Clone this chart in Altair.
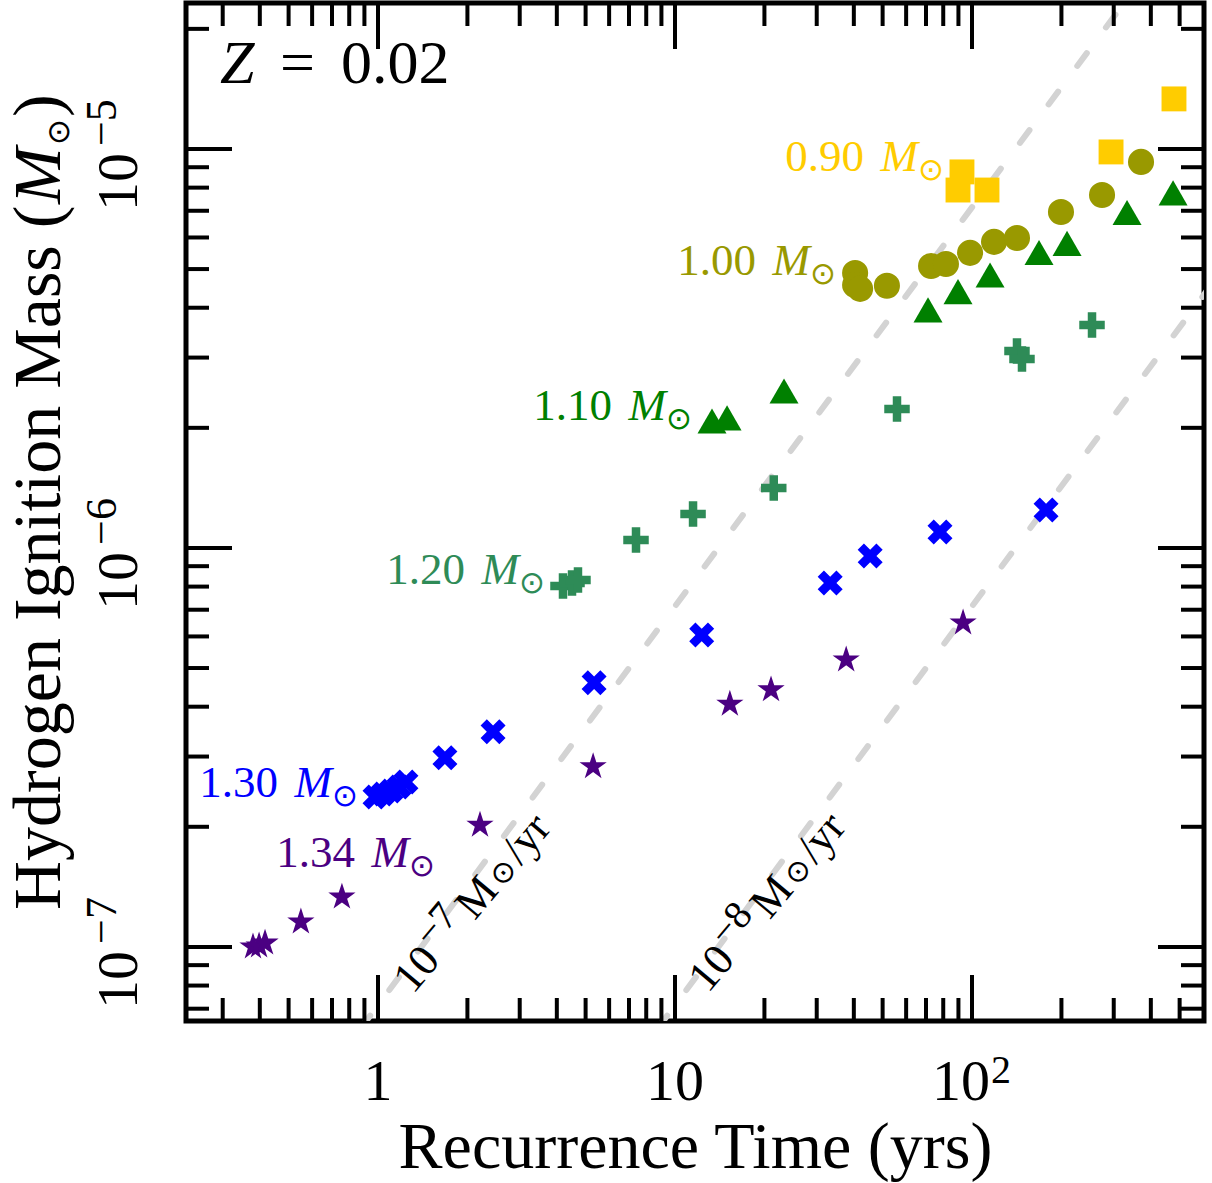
import altair as alt
import pandas as pd

# ---------------- data ----------------
series_names = ["0.90", "1.00", "1.10", "1.20", "1.30", "1.34"]
series_colors = ["#FFCC00", "#999900", "#008000", "#2E8B57", "#0000FF", "#4B0082"]

t_090 = [92.5, 89.7, 112.3, 293.8, 478.6]
M_090 = [8.76e-6, 7.89e-6, 7.89e-6, 9.83e-6, 1.335e-5]

t_100 = [40.4, 40.4, 42.0, 51.7, 72.8, 81.7, 98.5, 118.6, 141.7, 199.3, 274.0, 370.7]
M_100 = [4.89e-6, 4.56e-6, 4.46e-6, 4.54e-6, 5.09e-6, 5.15e-6, 5.49e-6, 5.85e-6,
         5.98e-6, 6.95e-6, 7.67e-6, 9.28e-6]

t_110 = [13.32, 14.97, 23.28, 71.1, 89.7, 115.0, 168.1, 208.9, 332.6, 475.2]
M_110 = [2.081e-6, 2.118e-6, 2.474e-6, 3.95e-6, 4.39e-6, 4.83e-6, 5.50e-6, 5.80e-6,
         6.93e-6, 7.76e-6]

t_120 = [4.196, 4.50, 4.713, 7.39, 11.5, 21.5, 55.9, 141.7, 147.3, 253.5]
M_120 = [8.03e-7, 8.17e-7, 8.31e-7, 1.047e-6, 1.216e-6, 1.413e-6, 2.23e-6, 3.118e-6,
         2.977e-6, 3.62e-6]

t_130 = [0.977, 1.039, 1.106, 1.177, 1.242, 1.68, 2.44, 5.34, 12.3, 33.3, 45.4, 78.0, 177.5]
M_130 = [2.376e-7, 2.418e-7, 2.46e-7, 2.518e-7, 2.591e-7, 2.98e-7, 3.46e-7, 4.59e-7,
         6.05e-7, 8.17e-7, 9.55e-7, 1.097e-6, 1.245e-6]

t_134 = [0.3794, 0.3977, 0.4165, 0.55, 0.756, 2.205, 5.30, 15.3, 21.05, 37.7, 93.3]
M_134 = [1.0e-7, 1.006e-7, 1.023e-7, 1.155e-7, 1.334e-7, 2.02e-7, 2.83e-7, 4.06e-7,
         4.41e-7, 5.24e-7, 6.49e-7]

# constant accretion-rate guide lines (end points)
rate_names = ["1e-7", "1e-8"]
rate_base = ["10", "10"]
rate_exp = ["\u22127", "\u22128"]
line1_t = [0.7, 400.0]
line1_M = [5.0e-8, 2.857e-5]
line2_t = [7.0, 700.0]
line2_M = [5.0e-8, 5.0e-6]
rate_label_t = [1.312, 12.91]
rate_label_M = [7.58e-8, 7.62e-8]

# series label anchors (right end of the sun symbol, text baseline)
label_t = [80.5, 34.84, 11.41, 3.65, 0.856, 1.556]
label_M = [8.81e-6, 4.83e-6, 2.093e-6, 8.12e-7, 2.377e-7, 1.587e-7]

# metallicity annotation anchor
z_t = [0.2937]
z_M = [1.463e-5]

# axis ticks and tick labels
x_major = [1, 10, 100]
x_major_base = ["1", "10", "10"]
x_major_exp = ["", "", "2"]
x_minor = [0.3, 0.4, 0.5, 0.6, 0.7, 0.8, 0.9,
           2, 3, 4, 5, 6, 7, 8, 9,
           20, 30, 40, 50, 60, 70, 80, 90,
           200, 300, 400, 500]
y_major = [1e-7, 1e-6, 1e-5]
y_major_base = ["10", "10", "10"]
y_major_exp = ["\u22127", "\u22126", "\u22125"]
y_minor = [7e-8, 8e-8, 9e-8,
           2e-7, 3e-7, 4e-7, 5e-7, 6e-7, 7e-7, 8e-7, 9e-7,
           2e-6, 3e-6, 4e-6, 5e-6, 6e-6, 7e-6, 8e-6, 9e-6,
           2e-5]

x_title = "Recurrence Time (yrs)"
y_title_parts = ["Hydrogen Ignition Mass (", "M", "\u2299", ")"]

# ---------------- styling ----------------
W, H = 1018, 1018
SERIF = "Liberation Serif"
SYM = "DejaVu Sans"
MAJ, MIN = 46, 23

xscale = alt.Scale(type="log", domain=[0.2257, 604], nice=False)
yscale = alt.Scale(type="log", domain=[6.52e-8, 2.322e-5], nice=False)

SHAPE_TRI = "M0,-0.866L1,0.866L-1,0.866Z"
SHAPE_PLUS = ("M-0.333,-1L0.333,-1L0.333,-0.333L1,-0.333L1,0.333L0.333,0.333"
              "L0.333,1L-0.333,1L-0.333,0.333L-1,0.333L-1,-0.333L-0.333,-0.333Z")
SHAPE_X = ("M-0.5,-1L0,-0.5L0.5,-1L1,-0.5L0.5,0L1,0.5L0.5,1L0,0.5L-0.5,1"
           "L-1,0.5L-0.5,0L-1,-0.5Z")
SHAPE_STAR = ("M0,-1L0.2245,-0.309L0.9511,-0.309L0.3633,0.118L0.5878,0.809"
              "L0,0.382L-0.5878,0.809L-0.3633,0.118L-0.9511,-0.309L-0.2245,-0.309Z")

series_t = [t_090, t_100, t_110, t_120, t_130, t_134]
series_M = [M_090, M_100, M_110, M_120, M_130, M_134]
series_shapes = ["square", "circle", SHAPE_TRI, SHAPE_PLUS, SHAPE_X, SHAPE_STAR]
series_sizes = [620, 680, 841, 650, 625, 820]

x_axis = alt.Axis(
    values=x_major, labels=False, ticks=False, domain=False, grid=False,
    title=x_title, titleFont=SERIF, titleFontSize=66,
    titleFontWeight="normal", titleColor="black",
    titleBaseline="alphabetic", titleY=146,
)


def X():
    return alt.X("t:Q", scale=xscale, axis=x_axis)


def Y():
    return alt.Y("M:Q", scale=yscale, axis=None)


layers = []

# guide lines
lines_df = pd.DataFrame({
    "t": line1_t + line2_t,
    "M": line1_M + line2_M,
    "rate": [rate_names[0]] * 2 + [rate_names[1]] * 2,
})
layers.append(
    alt.Chart(lines_df).mark_line(
        clip=True, color="#d3d3d3", strokeWidth=6, strokeDash=[16, 32], strokeCap="round"
    ).encode(x=X(), y=Y(), detail="rate:N")
)

# guide line labels: "10" + raised "-7" + "M" + "⊙" + "/yr", rotated along the lines
rate_df = pd.DataFrame({"t": rate_label_t, "M": rate_label_M,
                        "base": rate_base, "exp": rate_exp})
rate_pieces = [
    ("base", None, SERIF, 44, 0, 0),
    ("exp", None, SERIF, 40, 47, -15),
    (None, "M", SERIF, 44, 96, 0),
    (None, "\u2299", SYM, 30, 139, 0),
    (None, "/yr", SERIF, 44, 168, 0),
]
for field, const, font, size, dx, dy in rate_pieces:
    mk = dict(font=font, fontSize=size, color="black", angle=310,
              align="left", baseline="alphabetic", dx=dx, dy=dy)
    enc = dict(x=X(), y=Y())
    if field:
        enc["text"] = f"{field}:N"
    else:
        mk["text"] = const
    layers.append(alt.Chart(rate_df).mark_text(**mk).encode(**enc))

# data series
for ts, ms, color, shape, size in zip(series_t, series_M, series_colors,
                                      series_shapes, series_sizes):
    df = pd.DataFrame({"t": ts, "M": ms})
    layers.append(
        alt.Chart(df).mark_point(
            shape=shape, size=size, filled=True, color=color, opacity=1, strokeWidth=0
        ).encode(x=X(), y=Y())
    )

# series labels:  "1.00"  "M" (italic)  "⊙" (subscript)
lab_df = pd.DataFrame({"t": label_t, "M": label_M, "num": series_names})
col = alt.Color("num:N", scale=alt.Scale(domain=series_names, range=series_colors), legend=None)
layers.append(
    alt.Chart(lab_df).mark_text(font=SERIF, fontSize=45, align="right",
                                baseline="alphabetic", dx=-80)
    .encode(x=X(), y=Y(), text="num:N", color=col)
)
layers.append(
    alt.Chart(lab_df).mark_text(font=SERIF, fontSize=45, fontStyle="italic", text="M",
                                align="right", baseline="alphabetic", dx=-26)
    .encode(x=X(), y=Y(), color=col)
)
layers.append(
    alt.Chart(lab_df).mark_text(font=SYM, fontSize=31, text="\u2299",
                                align="right", baseline="middle")
    .encode(x=X(), y=Y(), color=col)
)

# Z = 0.02
z_df = pd.DataFrame({"t": z_t, "M": z_M})
for txt, dx, style in [("Z", 0, "italic"), ("=", 60, "normal"), ("0.02", 121, "normal")]:
    layers.append(
        alt.Chart(z_df).mark_text(font=SERIF, fontSize=62, fontStyle=style, text=txt, dx=dx,
                                  align="left", baseline="alphabetic", color="black")
        .encode(x=X(), y=Y())
    )

# x tick labels: "1", "10", "10^2"
xl_df = pd.DataFrame({"t": x_major, "base": x_major_base, "exp": x_major_exp})
xl_plain = xl_df[xl_df["exp"] == ""]
xl_sup = xl_df[xl_df["exp"] != ""]
layers.append(
    alt.Chart(xl_plain).mark_text(font=SERIF, fontSize=58, color="black",
                                  align="center", baseline="alphabetic")
    .encode(x=X(), y=alt.value(H + 79), text="base:N")
)
layers.append(
    alt.Chart(xl_sup).mark_text(font=SERIF, fontSize=58, color="black", dx=-11,
                                align="center", baseline="alphabetic")
    .encode(x=X(), y=alt.value(H + 79), text="base:N")
)
layers.append(
    alt.Chart(xl_sup).mark_text(font=SERIF, fontSize=40, color="black", dx=19, dy=-17,
                                align="left", baseline="alphabetic")
    .encode(x=X(), y=alt.value(H + 79), text="exp:N")
)

# y tick labels: rotated "10" with raised exponent
yl_df = pd.DataFrame({"M": y_major, "base": y_major_base, "exp": y_major_exp})
layers.append(
    alt.Chart(yl_df).mark_text(font=SERIF, fontSize=58, color="black", angle=270,
                               align="left", baseline="alphabetic", dx=-62)
    .encode(y=Y(), x=alt.value(-49), text="base:N")
)
layers.append(
    alt.Chart(yl_df).mark_text(font=SERIF, fontSize=44, color="black", angle=270,
                               align="left", baseline="alphabetic", dx=3, dy=-21)
    .encode(y=Y(), x=alt.value(-49), text="exp:N")
)

# y axis title, rotated: "Hydrogen Ignition Mass (" + italic M + subscript ⊙ + ")"
yt_df = pd.DataFrame({"part": y_title_parts})
yt_specs = [
    (0, SERIF, 68, "normal", 0, 0),
    (1, SERIF, 68, "italic", 706, 0),
    (2, SYM, 31, "normal", 765, 9),
    (3, SERIF, 68, "normal", 793, 0),
]
for idx, font, size, style, dx, dy in yt_specs:
    layers.append(
        alt.Chart(yt_df.iloc[[idx]]).mark_text(
            font=font, fontSize=size, fontStyle=style, color="black", angle=270,
            align="left", baseline="alphabetic", dx=dx, dy=dy,
        ).encode(x=alt.value(-126), y=alt.value(907), text="part:N")
    )


# inward ticks on all four sides
def xticks(vals, y0, y1):
    return alt.Chart(pd.DataFrame({"t": vals})).mark_rule(
        color="black", strokeWidth=4
    ).encode(x=X(), y=alt.value(y0), y2=alt.value(y1))


def yticks(vals, x0, x1):
    return alt.Chart(pd.DataFrame({"M": vals})).mark_rule(
        color="black", strokeWidth=4
    ).encode(y=Y(), x=alt.value(x0), x2=alt.value(x1))


layers += [
    xticks(x_major, H, H - MAJ), xticks(x_minor, H, H - MIN),
    xticks(x_major, 0, MAJ), xticks(x_minor, 0, MIN),
    yticks(y_major, 0, MAJ), yticks(y_minor, 0, MIN),
    yticks(y_major, W, W - MAJ), yticks(y_minor, W, W - MIN),
]

chart = alt.layer(*layers).properties(
    width=W, height=H,
    padding={"left": 186, "top": 3, "right": 8, "bottom": 162},
    autosize=alt.AutoSizeParams(type="none"),
    background="white",
).configure_view(stroke="black", strokeWidth=5)

chart.save("out.html", embed_options={"renderer": "svg", "actions": False})
